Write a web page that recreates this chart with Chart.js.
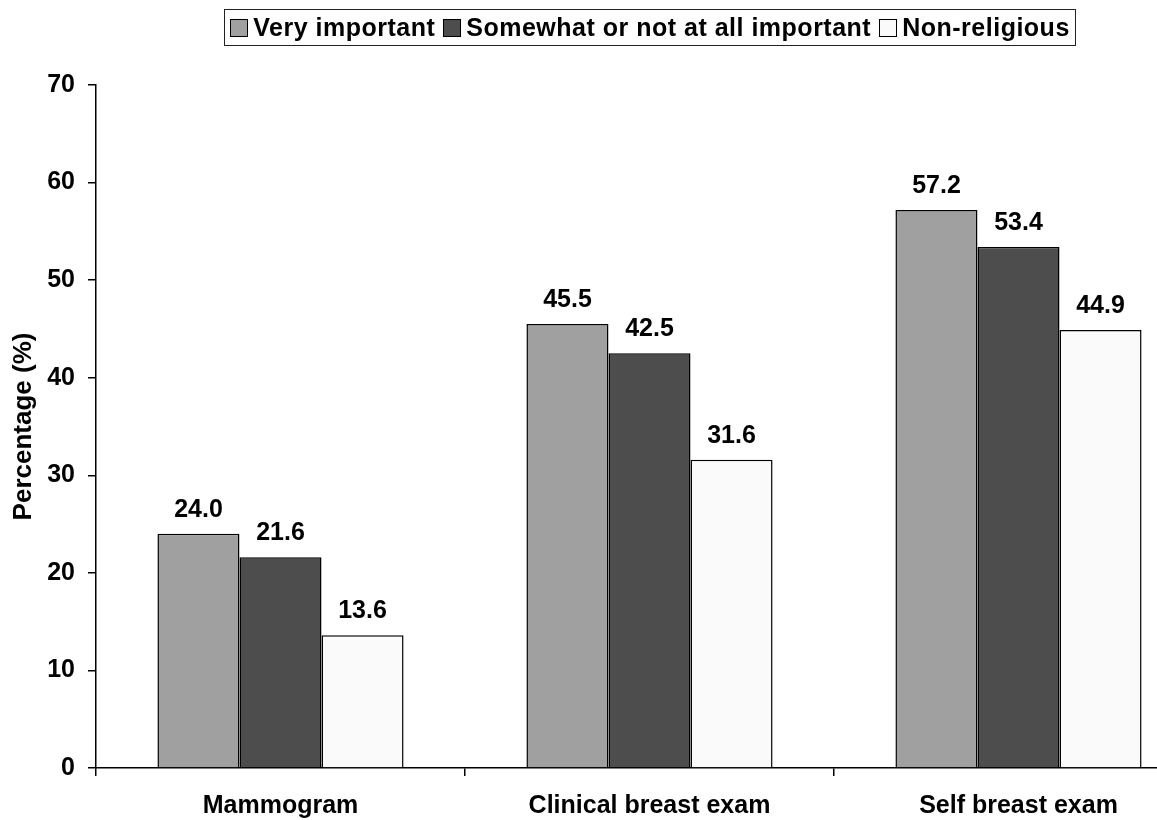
<!DOCTYPE html>
<html>
<head>
<meta charset="utf-8">
<script src="https://cdn.jsdelivr.net/npm/chart.js@4"></script>
<style>
  html, body { margin: 0; padding: 0; background: #fff; overflow: hidden; width: 1157px; height: 820px; }
  #wrap { position: absolute; left: 0; top: 0; width: 1210px; height: 820px; }
  #legend {
    position: absolute; left: 224px; top: 9px; width: 850px; height: 35px;
    border: 1px solid #222; display: flex; align-items: center; justify-content: center;
    font: bold 25px "Liberation Sans", Arial, sans-serif; letter-spacing: 0.5px;
    color: #000; white-space: nowrap;
  }
  #legend .item { display: flex; align-items: center; margin: 0 4px; }
  #legend .sw { width: 16px; height: 16px; border: 1px solid #000; margin-right: 5px; }
</style>
</head>
<body>
<div id="wrap">
  <canvas id="chart"></canvas>
  <div id="legend"></div>
</div>
<script>
const categories = ['Mammogram', 'Clinical breast exam', 'Self breast exam'];
const seriesNames = ['Very important', 'Somewhat or not at all important', 'Non-religious'];
const veryImportant = [24.0, 45.5, 57.2];
const somewhatImportant = [21.6, 42.5, 53.4];
const nonReligious = [13.6, 31.6, 44.9];
const yTicks = [0, 10, 20, 30, 40, 50, 60, 70];

const colors = ['#a0a0a0', '#4d4d4d', '#fafafa'];
const FONT = '"Liberation Sans", Arial, sans-serif';

// numbers above each bar
const valueLabels = {
  id: 'valueLabels',
  afterDatasetsDraw(chart) {
    const { ctx } = chart;
    ctx.save();
    ctx.font = `bold 25px ${FONT}`;
    ctx.fillStyle = '#000';
    ctx.textAlign = 'center';
    ctx.textBaseline = 'alphabetic';
    chart.data.datasets.forEach((ds, i) => {
      chart.getDatasetMeta(i).data.forEach((bar, j) => {
        ctx.fillText(ds.data[j].toFixed(1), bar.x, bar.y - 17);
      });
    });
    ctx.restore();
  },
};

document.getElementById('legend').innerHTML = seriesNames
  .map((name, i) => `<span class="item"><span class="sw" style="background:${colors[i]}"></span>${name}</span>`)
  .join('');

new Chart(document.getElementById('chart'), {
  type: 'bar',
  data: {
    labels: categories,
    datasets: [veryImportant, somewhatImportant, nonReligious].map((data, i) => ({
      label: seriesNames[i],
      data,
      backgroundColor: colors[i],
      borderColor: '#000',
      borderWidth: 1.5,
      categoryPercentage: 0.667,
      barPercentage: 1,
    })),
  },
  options: {
    responsive: true,
    maintainAspectRatio: false,
    animation: false,
    layout: { padding: { top: 85, right: 7, left: 0, bottom: 0 } },
    plugins: { legend: { display: false }, tooltip: { enabled: false } },
    scales: {
      x: {
        afterFit: (s) => { s.height = 52; },
        border: { color: '#000', width: 1.5 },
        grid: { drawOnChartArea: false, color: '#000', tickLength: 8, lineWidth: 1.5 },
        ticks: { color: '#000', font: { family: FONT, size: 25, weight: 'bold' }, padding: 15 },
      },
      y: {
        min: 0,
        max: 70,
        afterFit: (s) => { s.width = 96; },
        afterBuildTicks: (s) => { s.ticks = yTicks.map((v) => ({ value: v })); },
        border: { color: '#000', width: 1.5 },
        grid: { drawOnChartArea: false, color: '#000', tickLength: 8, lineWidth: 1.5 },
        ticks: { color: '#000', font: { family: FONT, size: 25, weight: 'bold' }, padding: 13 },
        title: {
          display: true,
          text: 'Percentage (%)',
          color: '#000',
          font: { family: FONT, size: 26, weight: 'bold' },
          padding: { top: 8, bottom: 0 },
        },
      },
    },
  },
  plugins: [valueLabels],
});
</script>
</body>
</html>
